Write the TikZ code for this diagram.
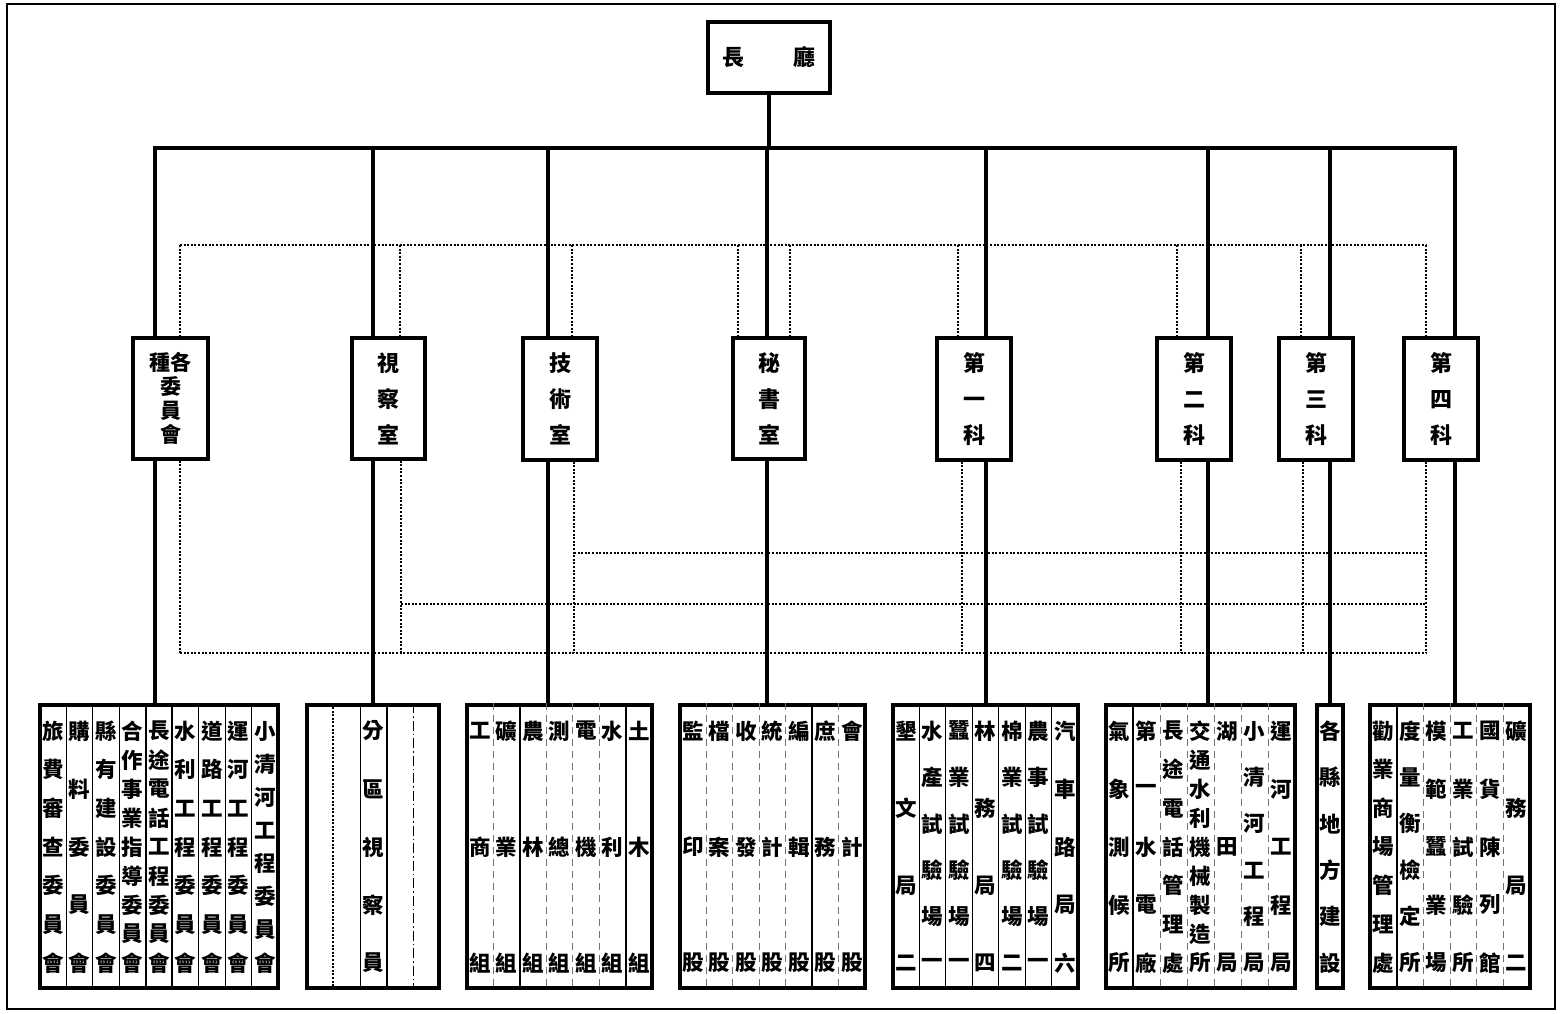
\documentclass[tikz,border=0pt]{standalone}
\usepackage{fontspec}
\newfontfamily\cjk{Noto Sans CJK TC}
\newcommand\evencol[4]{%
  \foreach \cc [count=\i] in {#4}{%
    \pgfmathsetmacro\yy{731+(\i-1)*232/(#3-1)}%
    \node[ch] (#1-\i) at (#2,\yy) {\cc};}}
\newcommand\divs[3]{%
  \foreach \xx in {#3}{\draw[#2] (\xx,0 |- #1.north) -- (\xx,0 |- #1.south);}}
\begin{document}
\begin{tikzpicture}[x=1pt,y=-1pt,
  box/.style={draw, line width=3.2pt, inner sep=0pt, align=center,
    font=\cjk\bfseries\fontsize{22}{36}\selectfont},
  lowbox/.style={draw, line width=3.4pt, inner sep=0pt, minimum height=283pt},
  ch/.style={inner sep=0pt, font=\cjk\bfseries\fontsize{21.5}{21.5}\selectfont},
  conn/.style={line width=3.4pt},
  dots/.style={line width=2.3pt, dash pattern=on 2pt off 1.6pt},
  div/.style={line width=1pt},
  sdiv/.style={line width=1.8pt},
  fdiv/.style={line width=0.9pt, black!55, dash pattern=on 7pt off 5pt}]
\useasboundingbox (0,0) rectangle (1562,1013);
\fill[white] (0,0) rectangle (1562,1013);
\draw[line width=2.4pt] (7,4) rectangle (1555,1009);

% top
\node[box, minimum width=122pt, minimum height=71pt] (chief) at (769,57.5) {長\hspace{50pt}廳};

% middle boxes
\node[box, minimum width=75pt, minimum height=121pt, font=\cjk\bfseries\fontsize{21}{24}\selectfont] (m1) at (170.5,398.5) {種各\\委\\員\\會};
\node[box, minimum width=73pt, minimum height=121pt] (m2) at (388.5,398.5) {視\\察\\室};
\node[box, minimum width=74pt, minimum height=122pt] (m3) at (560,399) {技\\術\\室};
\node[box, minimum width=72pt, minimum height=121pt] (m4) at (769,398.5) {秘\\書\\室};
\node[box, minimum width=74pt, minimum height=122pt] (m5) at (974,399) {第\\一\\科};
\node[box, minimum width=74pt, minimum height=122pt] (m6) at (1194,399) {第\\二\\科};
\node[box, minimum width=74pt, minimum height=122pt] (m7) at (1316,399) {第\\三\\科};
\node[box, minimum width=74pt, minimum height=122pt] (m8) at (1441,399) {第\\四\\科};

% bottom boxes
\node[lowbox, minimum width=238pt] (b1) at (159,846.5) {};
\node[lowbox, minimum width=132pt] (b2) at (373,846.5) {};
\node[lowbox, minimum width=185pt] (b3) at (559.5,846.5) {};
\node[lowbox, minimum width=185pt] (b4) at (772.5,846.5) {};
\node[lowbox, minimum width=185pt] (b5) at (985.5,846.5) {};
\node[lowbox, minimum width=189pt] (b6) at (1200.5,846.5) {};
\node[lowbox, minimum width=26pt] (b7) at (1330,846.5) {};
\node[lowbox, minimum width=160pt] (b8) at (1450,846.5) {};

% dotted network
\draw[dots] (180,245) -- (1426,245);
\foreach \xx/\nn in {180/m1,400/m2,572/m3,738/m4,790/m4,958/m5,1177/m6,1301/m7,1426/m8}
  {\draw[dots] (\xx,245) -- (\xx,245 |- \nn.north);}
\foreach \xx/\nn in {180/m1,401/m2,574/m3,962/m5,1181/m6,1303/m7,1426/m8}
  {\draw[dots] (\xx,0 |- \nn.south) -- (\xx,653);}
\draw[dots] (574,553) -- (1426,553);
\draw[dots] (401,604) -- (1426,604);
\draw[dots] (180,653) -- (1426,653);

% solid connectors
\coordinate (bus1) at (155,148);
\coordinate (bus8) at (1455,148);
\draw[conn] (chief.south) -- (chief.south |- bus1);
\draw[conn, line cap=rect] (bus1) -- (bus8);
\foreach \xx/\k in {155/1,373/2,548/3,767/4,986/5,1208/6,1330/7,1455/8}{
  \draw[conn] (\xx,148) -- (\xx,0 |- m\k.north);
  \draw[conn] (\xx,0 |- m\k.south) -- (\xx,0 |- b\k.north);
}

% dividers
\divs{b1}{div}{66.4,92.9,119.3,198.7,225.1,251.6}
\divs{b1}{sdiv}{145.8,172.2}
\draw[dots, line width=1.2pt] (333,0 |- b2.north) -- (333,0 |- b2.south);
\divs{b2}{div}{360}
\divs{b2}{sdiv}{387}
\draw[line width=1pt, dash pattern=on 10pt off 3pt on 1.5pt off 3pt] (413,0 |- b2.north) -- (413,0 |- b2.south);
\divs{b3}{fdiv}{493.4,546.3,572.7,599.1}
\divs{b3}{sdiv}{519.9,625.6}
\divs{b4}{fdiv}{706.4,732.9,759.3,785.7,838.6}
\divs{b4}{sdiv}{812.1}
\divs{b5}{div}{919.4,945.9,972.3,998.7,1025.1,1051.6}
\divs{b6}{sdiv}{1133}
\divs{b6}{fdiv}{1160,1187,1214,1241,1268}
\divs{b8}{sdiv}{1396.7}
\divs{b8}{fdiv}{1423.3,1450,1476.7,1503.3}

% box 1
\evencol{a1}{53.2}{7}{旅,費,審,查,委,員,會}
\evencol{a2}{79.7}{5}{購,料,委,員,會}
\evencol{a3}{106.1}{7}{縣,有,建,設,委,員,會}
\evencol{a4}{132.5}{9}{合,作,事,業,指,導,委,員,會}
\evencol{a5}{159.0}{9}{長,途,電,話,工,程,委,員,會}
\evencol{a6}{185.4}{7}{水,利,工,程,委,員,會}
\evencol{a7}{211.9}{7}{道,路,工,程,委,員,會}
\evencol{a8}{238.3}{7}{運,河,工,程,委,員,會}
\evencol{a9}{264.8}{8}{小,清,河,工,程,委,員,會}
% box 2
\evencol{c1}{373.5}{5}{分,區,視,察,員}
% box 3
\evencol{d1}{480.2}{3}{工,商,組}
\evencol{d2}{506.6}{3}{礦,業,組}
\evencol{d3}{533.1}{3}{農,林,組}
\evencol{d4}{559.5}{3}{測,總,組}
\evencol{d5}{585.9}{3}{電,機,組}
\evencol{d6}{612.4}{3}{水,利,組}
\evencol{d7}{638.8}{3}{土,木,組}
% box 4
\evencol{e1}{693.2}{3}{監,印,股}
\evencol{e2}{719.6}{3}{檔,案,股}
\evencol{e3}{746.1}{3}{收,發,股}
\evencol{e4}{772.5}{3}{統,計,股}
\evencol{e5}{798.9}{3}{編,輯,股}
\evencol{e6}{825.4}{3}{庶,務,股}
\evencol{e7}{851.8}{3}{會,計,股}
% box 5
\evencol{f1}{906.2}{4}{墾,文,局,二}
\evencol{f2}{932.6}{6}{水,產,試,驗,場,一}
\evencol{f3}{959.1}{6}{蠶,業,試,驗,場,一}
\evencol{f4}{985.5}{4}{林,務,局,四}
\evencol{f5}{1011.9}{6}{棉,業,試,驗,場,二}
\evencol{f6}{1038.4}{6}{農,事,試,驗,場,一}
\evencol{f7}{1064.8}{5}{汽,車,路,局,六}
% box 6
\evencol{g1}{1119.5}{5}{氣,象,測,候,所}
\evencol{g2}{1146.5}{5}{第,一,水,電,廠}
\evencol{g3}{1173.5}{7}{長,途,電,話,管,理,處}
\evencol{g4}{1200.5}{9}{交,通,水,利,機,械,製,造,所}
\evencol{g5}{1227.5}{3}{湖,田,局}
\evencol{g6}{1254.5}{6}{小,清,河,工,程,局}
\evencol{g7}{1281.5}{5}{運,河,工,程,局}
% box 7
\evencol{h1}{1330}{6}{各,縣,地,方,建,設}
% box 8
\evencol{k1}{1383.3}{7}{勸,業,商,場,管,理,處}
\evencol{k2}{1410.0}{6}{度,量,衡,檢,定,所}
\evencol{k3}{1436.7}{5}{模,範,蠶,業,場}
\evencol{k4}{1463.3}{5}{工,業,試,驗,所}
\evencol{k5}{1490.0}{5}{國,貨,陳,列,館}
\evencol{k6}{1516.7}{4}{礦,務,局,二}
\end{tikzpicture}
\end{document}
